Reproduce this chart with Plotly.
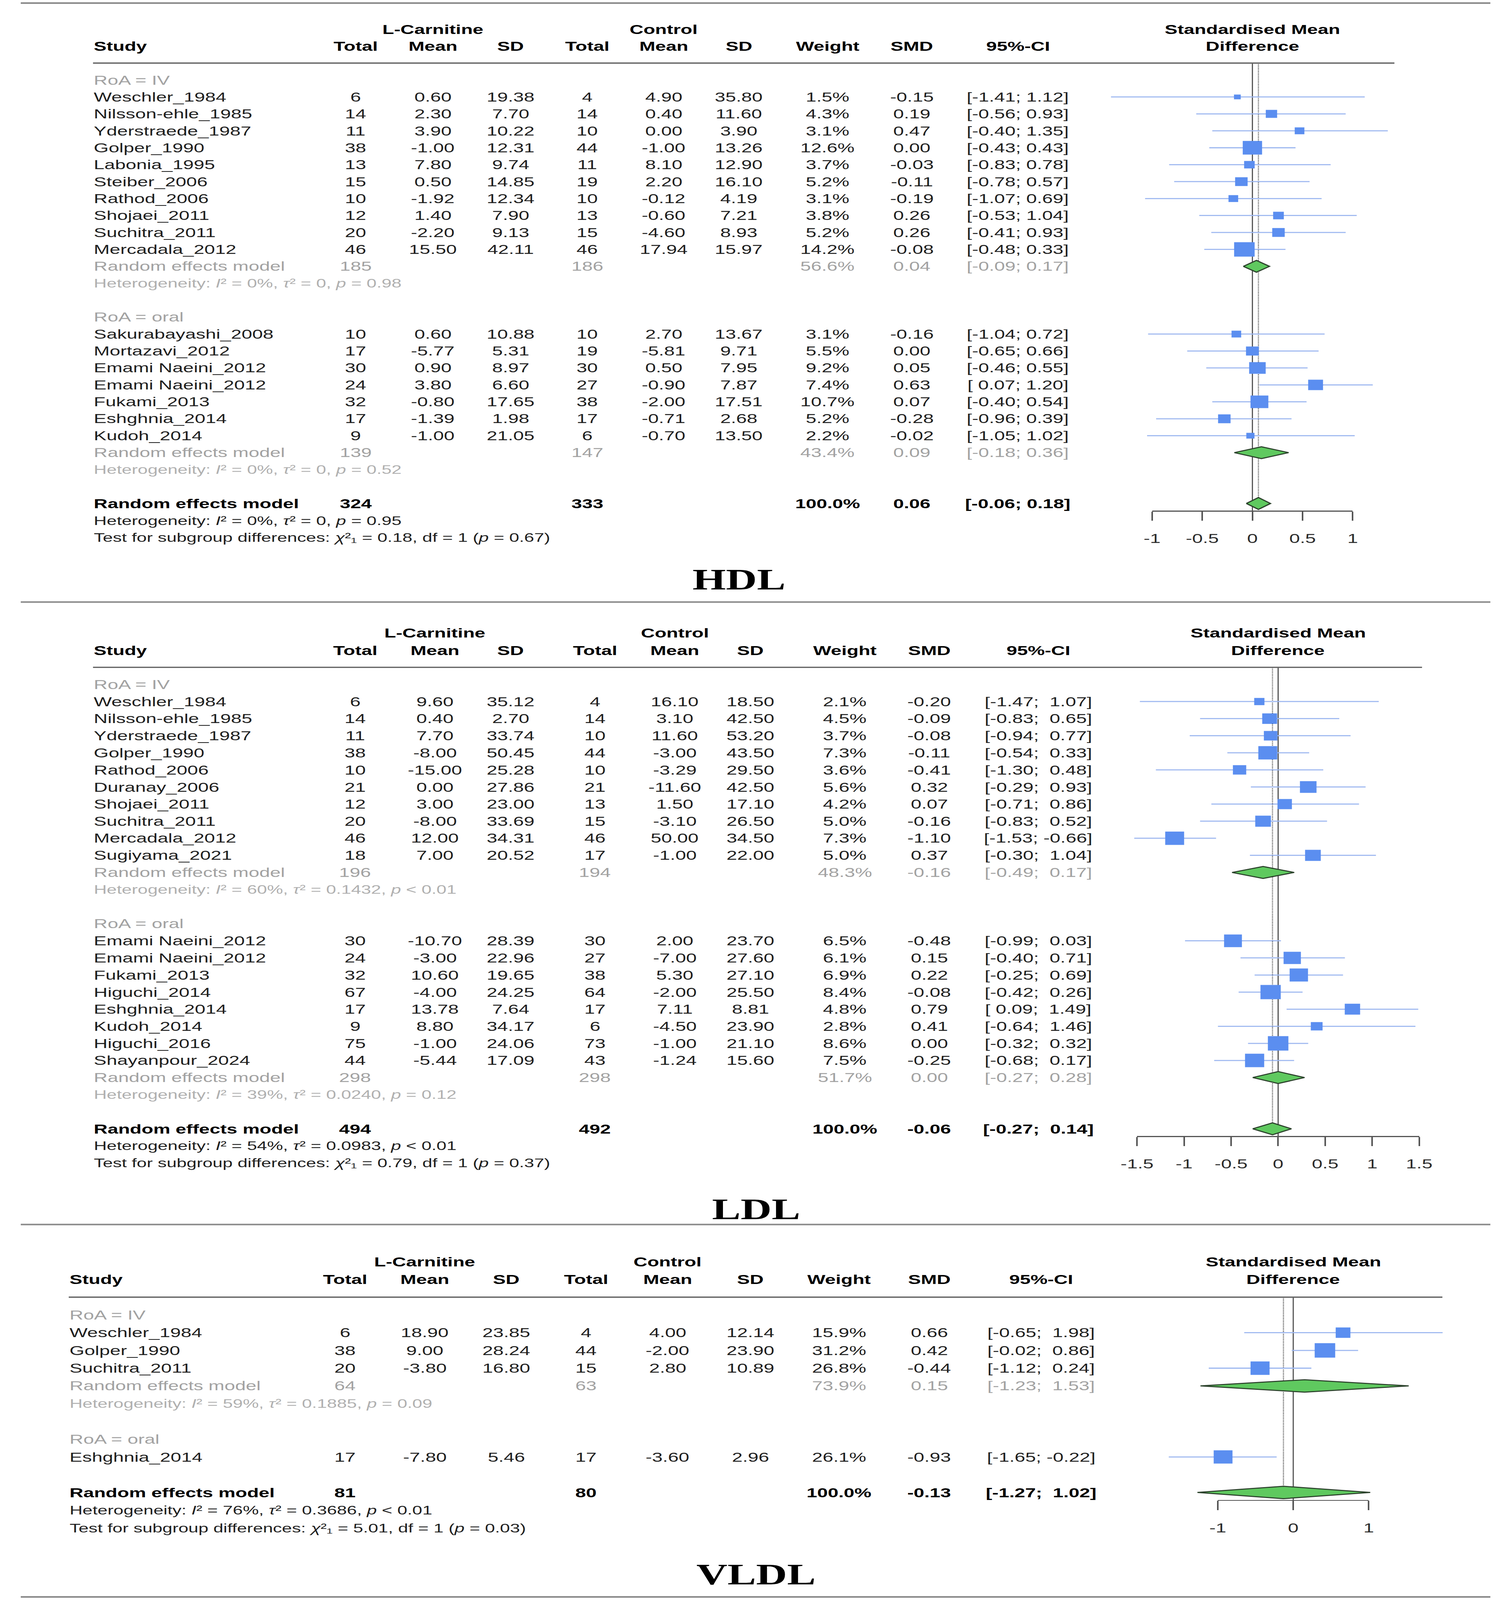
import math
import plotly.graph_objects as go

W, H = 3861, 5954
WD, HD = 1017.0, 1568.0          # layout grid (reference proportions) used for positioning

FONT = "Liberation Sans, Arial, Helvetica, sans-serif"
SERIF = "Liberation Serif, Times New Roman, serif"

# ======================= DATA =======================
# ---------------- HDL ----------------
hdl_study = ["Weschler_1984", "Nilsson-ehle_1985", "Yderstraede_1987", "Golper_1990", "Labonia_1995",
             "Steiber_2006", "Rathod_2006", "Shojaei_2011", "Suchitra_2011", "Mercadala_2012",
             "Sakurabayashi_2008", "Mortazavi_2012", "Emami Naeini_2012", "Emami Naeini_2012",
             "Fukami_2013", "Eshghnia_2014", "Kudoh_2014"]
hdl_group = ["IV"] * 10 + ["oral"] * 7
hdl_n_e = [6, 14, 11, 38, 13, 15, 10, 12, 20, 46, 10, 17, 30, 24, 32, 17, 9]
hdl_mean_e = [0.60, 2.30, 3.90, -1.00, 7.80, 0.50, -1.92, 1.40, -2.20, 15.50,
              0.60, -5.77, 0.90, 3.80, -0.80, -1.39, -1.00]
hdl_sd_e = [19.38, 7.70, 10.22, 12.31, 9.74, 14.85, 12.34, 7.90, 9.13, 42.11,
            10.88, 5.31, 8.97, 6.60, 17.65, 1.98, 21.05]
hdl_n_c = [4, 14, 10, 44, 11, 19, 10, 13, 15, 46, 10, 19, 30, 27, 38, 17, 6]
hdl_mean_c = [4.90, 0.40, 0.00, -1.00, 8.10, 2.20, -0.12, -0.60, -4.60, 17.94,
              2.70, -5.81, 0.50, -0.90, -2.00, -0.71, -0.70]
hdl_sd_c = [35.80, 11.60, 3.90, 13.26, 12.90, 16.10, 4.19, 7.21, 8.93, 15.97,
            13.67, 9.71, 7.95, 7.87, 17.51, 2.68, 13.50]
hdl_weight = [1.5, 4.3, 3.1, 12.6, 3.7, 5.2, 3.1, 3.8, 5.2, 14.2, 3.1, 5.5, 9.2, 7.4, 10.7, 5.2, 2.2]
hdl_smd = [-0.15, 0.19, 0.47, 0.00, -0.03, -0.11, -0.19, 0.26, 0.26, -0.08,
           -0.16, 0.00, 0.05, 0.63, 0.07, -0.28, -0.02]
hdl_lo = [-1.41, -0.56, -0.40, -0.43, -0.83, -0.78, -1.07, -0.53, -0.41, -0.48,
          -1.04, -0.65, -0.46, 0.07, -0.40, -0.96, -1.05]
hdl_hi = [1.12, 0.93, 1.35, 0.43, 0.78, 0.57, 0.69, 1.04, 0.93, 0.33,
          0.72, 0.66, 0.55, 1.20, 0.54, 0.39, 1.02]
hdl_sub_group = ["IV", "oral"]
hdl_sub_n_e = [185, 139]
hdl_sub_n_c = [186, 147]
hdl_sub_weight = [56.6, 43.4]
hdl_sub_smd = [0.04, 0.09]
hdl_sub_lo = [-0.09, -0.18]
hdl_sub_hi = [0.17, 0.36]
hdl_sub_i2 = ["0%", "0%"]
hdl_sub_tau2 = ["0", "0"]
hdl_sub_p = ["= 0.98", "= 0.52"]
hdl_all = dict(n_e=324, n_c=333, weight=100.0, smd=0.06, lo=-0.06, hi=0.18,
               i2="0%", tau2="0", p="= 0.95", chi2="0.18", chi_p="0.67")
hdl_ticks = [-1, -0.5, 0, 0.5, 1]

# ---------------- LDL ----------------
ldl_study = ["Weschler_1984", "Nilsson-ehle_1985", "Yderstraede_1987", "Golper_1990", "Rathod_2006",
             "Duranay_2006", "Shojaei_2011", "Suchitra_2011", "Mercadala_2012", "Sugiyama_2021",
             "Emami Naeini_2012", "Emami Naeini_2012", "Fukami_2013", "Higuchi_2014",
             "Eshghnia_2014", "Kudoh_2014", "Higuchi_2016", "Shayanpour_2024"]
ldl_group = ["IV"] * 10 + ["oral"] * 8
ldl_n_e = [6, 14, 11, 38, 10, 21, 12, 20, 46, 18, 30, 24, 32, 67, 17, 9, 75, 44]
ldl_mean_e = [9.60, 0.40, 7.70, -8.00, -15.00, 0.00, 3.00, -8.00, 12.00, 7.00,
              -10.70, -3.00, 10.60, -4.00, 13.78, 8.80, -1.00, -5.44]
ldl_sd_e = [35.12, 2.70, 33.74, 50.45, 25.28, 27.86, 23.00, 33.69, 34.31, 20.52,
            28.39, 22.96, 19.65, 24.25, 7.64, 34.17, 24.06, 17.09]
ldl_n_c = [4, 14, 10, 44, 10, 21, 13, 15, 46, 17, 30, 27, 38, 64, 17, 6, 73, 43]
ldl_mean_c = [16.10, 3.10, 11.60, -3.00, -3.29, -11.60, 1.50, -3.10, 50.00, -1.00,
              2.00, -7.00, 5.30, -2.00, 7.11, -4.50, -1.00, -1.24]
ldl_sd_c = [18.50, 42.50, 53.20, 43.50, 29.50, 42.50, 17.10, 26.50, 34.50, 22.00,
            23.70, 27.60, 27.10, 25.50, 8.81, 23.90, 21.10, 15.60]
ldl_weight = [2.1, 4.5, 3.7, 7.3, 3.6, 5.6, 4.2, 5.0, 7.3, 5.0, 6.5, 6.1, 6.9, 8.4, 4.8, 2.8, 8.6, 7.5]
ldl_smd = [-0.20, -0.09, -0.08, -0.11, -0.41, 0.32, 0.07, -0.16, -1.10, 0.37,
           -0.48, 0.15, 0.22, -0.08, 0.79, 0.41, 0.00, -0.25]
ldl_lo = [-1.47, -0.83, -0.94, -0.54, -1.30, -0.29, -0.71, -0.83, -1.53, -0.30,
          -0.99, -0.40, -0.25, -0.42, 0.09, -0.64, -0.32, -0.68]
ldl_hi = [1.07, 0.65, 0.77, 0.33, 0.48, 0.93, 0.86, 0.52, -0.66, 1.04,
          0.03, 0.71, 0.69, 0.26, 1.49, 1.46, 0.32, 0.17]
ldl_sub_group = ["IV", "oral"]
ldl_sub_n_e = [196, 298]
ldl_sub_n_c = [194, 298]
ldl_sub_weight = [48.3, 51.7]
ldl_sub_smd = [-0.16, 0.00]
ldl_sub_lo = [-0.49, -0.27]
ldl_sub_hi = [0.17, 0.28]
ldl_sub_i2 = ["60%", "39%"]
ldl_sub_tau2 = ["0.1432", "0.0240"]
ldl_sub_p = ["< 0.01", "= 0.12"]
ldl_all = dict(n_e=494, n_c=492, weight=100.0, smd=-0.06, lo=-0.27, hi=0.14,
               i2="54%", tau2="0.0983", p="< 0.01", chi2="0.79", chi_p="0.37")
ldl_ticks = [-1.5, -1, -0.5, 0, 0.5, 1, 1.5]

# ---------------- VLDL ----------------
vldl_study = ["Weschler_1984", "Golper_1990", "Suchitra_2011", "Eshghnia_2014"]
vldl_group = ["IV", "IV", "IV", "oral"]
vldl_n_e = [6, 38, 20, 17]
vldl_mean_e = [18.90, 9.00, -3.80, -7.80]
vldl_sd_e = [23.85, 28.24, 16.80, 5.46]
vldl_n_c = [4, 44, 15, 17]
vldl_mean_c = [4.00, -2.00, 2.80, -3.60]
vldl_sd_c = [12.14, 23.90, 10.89, 2.96]
vldl_weight = [15.9, 31.2, 26.8, 26.1]
vldl_smd = [0.66, 0.42, -0.44, -0.93]
vldl_lo = [-0.65, -0.02, -1.12, -1.65]
vldl_hi = [1.98, 0.86, 0.24, -0.22]
vldl_sub_group = ["IV", "oral"]
vldl_sub_n_e = [64, None]
vldl_sub_n_c = [63, None]
vldl_sub_weight = [73.9, None]
vldl_sub_smd = [0.15, None]
vldl_sub_lo = [-1.23, None]
vldl_sub_hi = [1.53, None]
vldl_sub_i2 = ["59%", None]
vldl_sub_tau2 = ["0.1885", None]
vldl_sub_p = ["= 0.09", None]
vldl_all = dict(n_e=81, n_c=80, weight=100.0, smd=-0.13, lo=-1.27, hi=1.02,
                i2="76%", tau2="0.3686", p="< 0.01", chi2="5.01", chi_p="0.03")
vldl_ticks = [-1, 0, 1]

# ======================= LAYOUT SPECS (positions only) =======================
specs = [
    dict(title="HDL", title_x=497, title_y=568, y0=95.0, sp=16.6, x0=850.3, unit=69.0,
         study_x=52.7, cols=[233.4, 286.5, 340, 392.8, 445.3, 497, 558, 616, 689],
         ul=(52.7, 948)),
    dict(title="LDL", title_x=509, title_y=1185, y0=687.5, sp=16.75, x0=868.0, unit=64.7,
         study_x=52.7, cols=[233, 288, 340, 398, 453, 505, 570, 628, 703],
         ul=(52.7, 967)),
    dict(title="VLDL", title_x=509, title_y=1543, y0=1306.0, sp=17.4, x0=878.4, unit=51.9,
         study_x=36.0, cols=[226, 281, 337, 392, 448, 505, 566, 628, 705],
         ul=(36.0, 981)),
]
separators_y = [3, 590, 1200, 1565]

datasets = [
    dict(study=hdl_study, group=hdl_group, n_e=hdl_n_e, mean_e=hdl_mean_e, sd_e=hdl_sd_e,
         n_c=hdl_n_c, mean_c=hdl_mean_c, sd_c=hdl_sd_c, weight=hdl_weight, smd=hdl_smd,
         lo=hdl_lo, hi=hdl_hi, sub_group=hdl_sub_group, sub_n_e=hdl_sub_n_e, sub_n_c=hdl_sub_n_c,
         sub_weight=hdl_sub_weight, sub_smd=hdl_sub_smd, sub_lo=hdl_sub_lo, sub_hi=hdl_sub_hi,
         sub_i2=hdl_sub_i2, sub_tau2=hdl_sub_tau2, sub_p=hdl_sub_p, all=hdl_all, ticks=hdl_ticks),
    dict(study=ldl_study, group=ldl_group, n_e=ldl_n_e, mean_e=ldl_mean_e, sd_e=ldl_sd_e,
         n_c=ldl_n_c, mean_c=ldl_mean_c, sd_c=ldl_sd_c, weight=ldl_weight, smd=ldl_smd,
         lo=ldl_lo, hi=ldl_hi, sub_group=ldl_sub_group, sub_n_e=ldl_sub_n_e, sub_n_c=ldl_sub_n_c,
         sub_weight=ldl_sub_weight, sub_smd=ldl_sub_smd, sub_lo=ldl_sub_lo, sub_hi=ldl_sub_hi,
         sub_i2=ldl_sub_i2, sub_tau2=ldl_sub_tau2, sub_p=ldl_sub_p, all=ldl_all, ticks=ldl_ticks),
    dict(study=vldl_study, group=vldl_group, n_e=vldl_n_e, mean_e=vldl_mean_e, sd_e=vldl_sd_e,
         n_c=vldl_n_c, mean_c=vldl_mean_c, sd_c=vldl_sd_c, weight=vldl_weight, smd=vldl_smd,
         lo=vldl_lo, hi=vldl_hi, sub_group=vldl_sub_group, sub_n_e=vldl_sub_n_e, sub_n_c=vldl_sub_n_c,
         sub_weight=vldl_sub_weight, sub_smd=vldl_sub_smd, sub_lo=vldl_sub_lo, sub_hi=vldl_sub_hi,
         sub_i2=vldl_sub_i2, sub_tau2=vldl_sub_tau2, sub_p=vldl_sub_p, all=vldl_all, ticks=vldl_ticks),
]

# ======================= STYLE =======================
C_TXT = "#1e1e1e"
C_HDR = "#000000"
C_GRAY = "#a2a2a2"
C_HETG = "#b0b0b0"
C_SQ = "#5b8ef0"
C_CI = "#9db7f0"
C_DIA = "#5fc95f"
C_DIA_L = "#2c422c"
FS = 49
FS_HET = 46
SQ_D = 14.0          # side of the largest square, in layout-grid units

fig = go.Figure()
annotations = []
shapes = []


def add_text(xD, yref, y, text, color=C_TXT, size=FS, anchor="center", family=FONT):
    annotations.append(dict(x=xD / WD, xref="paper", y=y, yref=yref, text=text, showarrow=False,
                            xanchor=anchor, yanchor="middle",
                            font=dict(family=family, size=size, color=color)))


def ci_texts(lows, highs):
    ls = [f"{v:.2f}" for v in lows]
    hs = [f"{v:.2f}" for v in highs]
    wl = max(len(s) for s in ls)
    wh = max(len(s) for s in hs)
    return ["[" + a.rjust(wl, "\u00a0") + "; " + b.rjust(wh, "\u00a0") + "]" for a, b in zip(ls, hs)]


def het_text(i2, tau2, p):
    return f"Heterogeneity: <i>I</i>\u00b2 = {i2}, <i>τ</i>\u00b2 = {tau2}, <i>p</i> {p}"


for k, (P, D) in enumerate(zip(specs, datasets), start=1):
    xa = "x" if k == 1 else f"x{k}"
    ya = "y" if k == 1 else f"y{k}"
    xname = "xaxis" if k == 1 else f"xaxis{k}"
    yname = "yaxis" if k == 1 else f"yaxis{k}"
    y0, sp, x0, u = P["y0"], P["sp"], P["x0"], P["unit"]
    c = P["cols"]
    A = D["all"]

    fig.layout[xname] = dict(domain=[0, 1], range=[(0 - x0) / u, (WD - x0) / u], visible=False,
                             anchor=ya, fixedrange=True)
    fig.layout[yname] = dict(domain=[0, 1], range=[(HD - y0) / sp, (0 - y0) / sp], visible=False,
                             anchor=xa, fixedrange=True)

    n = len(D["study"])
    rows = [None] * n
    roa_rows, sub_rows = [], {}
    r = -1
    for gi, g in enumerate(D["sub_group"]):
        roa_rows.append((g, r))
        r += 1
        for i in range(n):
            if D["group"][i] == g:
                rows[i] = r
                r += 1
        if D["sub_n_e"][gi] is not None:
            sub_rows[gi] = r
            r += 2
        r += 1
    r_all = r
    r_axis = r_all + 0.45

    all_lo = list(D["lo"]) + [v for v in D["sub_lo"] if v is not None] + [A["lo"]]
    all_hi = list(D["hi"]) + [v for v in D["sub_hi"] if v is not None] + [A["hi"]]
    cis = ci_texts(all_lo, all_hi)
    ci_study = cis[:n]
    ci_sub = {}
    j = n
    for gi in range(len(D["sub_group"])):
        if D["sub_lo"][gi] is not None:
            ci_sub[gi] = cis[j]
            j += 1
    ci_all = cis[j]

    # ---- headers ----
    b = lambda s: f"<b>{s}</b>"
    add_text(c[1], ya, -4, b("L-Carnitine"), C_HDR)
    add_text(c[4], ya, -4, b("Control"), C_HDR)
    add_text(x0, ya, -4, b("Standardised Mean"), C_HDR)
    add_text(P["study_x"], ya, -3, b("Study"), C_HDR, anchor="left")
    for xD, s in zip(c, ["Total", "Mean", "SD", "Total", "Mean", "SD", "Weight", "SMD", "95%-CI"]):
        add_text(xD, ya, -3, b(s), C_HDR)
    add_text(x0, ya, -3, b("Difference"), C_HDR)
    shapes.append(dict(type="line", xref="paper", yref=ya, x0=P["ul"][0] / WD, x1=P["ul"][1] / WD,
                       y0=-2, y1=-2, line=dict(color="#666666", width=5)))

    for g, rr in roa_rows:
        add_text(P["study_x"], ya, rr, f"RoA = {g}", C_GRAY, anchor="left")

    # ---- study rows ----
    for i in range(n):
        rr = rows[i]
        add_text(P["study_x"], ya, rr, D["study"][i], anchor="left")
        vals = [str(D["n_e"][i]), f"{D['mean_e'][i]:.2f}", f"{D['sd_e'][i]:.2f}",
                str(D["n_c"][i]), f"{D['mean_c'][i]:.2f}", f"{D['sd_c'][i]:.2f}",
                f"{D['weight'][i]:.1f}%", f"{D['smd'][i]:.2f}", ci_study[i]]
        for xD, s in zip(c, vals):
            add_text(xD, ya, rr, s)

    # ---- subgroup summaries ----
    for gi, rr in sub_rows.items():
        add_text(P["study_x"], ya, rr, "Random effects model", C_GRAY, anchor="left")
        add_text(c[0], ya, rr, str(D["sub_n_e"][gi]), C_GRAY)
        add_text(c[3], ya, rr, str(D["sub_n_c"][gi]), C_GRAY)
        add_text(c[6], ya, rr, f"{D['sub_weight'][gi]:.1f}%", C_GRAY)
        add_text(c[7], ya, rr, f"{D['sub_smd'][gi]:.2f}", C_GRAY)
        add_text(c[8], ya, rr, ci_sub[gi], C_GRAY)
        add_text(P["study_x"], ya, rr + 1,
                 het_text(D["sub_i2"][gi], D["sub_tau2"][gi], D["sub_p"][gi]),
                 C_HETG, size=FS_HET, anchor="left")

    # ---- overall ----
    add_text(P["study_x"], ya, r_all, b("Random effects model"), C_HDR, anchor="left")
    add_text(c[0], ya, r_all, b(str(A["n_e"])), C_HDR)
    add_text(c[3], ya, r_all, b(str(A["n_c"])), C_HDR)
    add_text(c[6], ya, r_all, b(f"{A['weight']:.1f}%"), C_HDR)
    add_text(c[7], ya, r_all, b(f"{A['smd']:.2f}"), C_HDR)
    add_text(c[8], ya, r_all, b(ci_all), C_HDR)
    add_text(P["study_x"], ya, r_all + 1, het_text(A["i2"], A["tau2"], A["p"]),
             C_TXT, size=FS_HET, anchor="left")
    add_text(P["study_x"], ya, r_all + 2,
             f"Test for subgroup differences: <i>χ</i>\u00b2\u2081 = {A['chi2']}, "
             f"df = 1 (<i>p</i> = {A['chi_p']})", C_TXT, size=FS_HET, anchor="left")

    # ---- forest marks ----
    fig.add_trace(go.Scatter(x=[0, 0], y=[-2, r_axis], mode="lines", xaxis=xa, yaxis=ya,
                             line=dict(color="#555555", width=3), hoverinfo="skip"))
    fig.add_trace(go.Scatter(x=[A["smd"], A["smd"]], y=[-2, r_all - 0.35], mode="lines",
                             xaxis=xa, yaxis=ya, hoverinfo="skip",
                             line=dict(color="#555555", width=3, dash="dot")))
    cx, cy = [], []
    for i in range(n):
        cx += [D["lo"][i], D["hi"][i], None]
        cy += [rows[i], rows[i], None]
    fig.add_trace(go.Scatter(x=cx, y=cy, mode="lines", xaxis=xa, yaxis=ya, hoverinfo="skip",
                             line=dict(color=C_CI, width=4)))
    # weight-scaled squares (side proportional to sqrt(weight))
    wmax = max(D["weight"])
    sx, sy = [], []
    for i in range(n):
        side = SQ_D * math.sqrt(D["weight"][i] / wmax)
        hw, hh = side / 2 / u, side / 2 / sp
        s, rr = D["smd"][i], rows[i]
        sx += [s - hw, s + hw, s + hw, s - hw, s - hw, None]
        sy += [rr - hh, rr - hh, rr + hh, rr + hh, rr - hh, None]
    fig.add_trace(go.Scatter(x=sx, y=sy, mode="lines", fill="toself", fillcolor=C_SQ,
                             line=dict(color=C_SQ, width=0.5), xaxis=xa, yaxis=ya,
                             hoverinfo="skip"))
    # summary diamonds
    dia = [(D["sub_smd"][gi], D["sub_lo"][gi], D["sub_hi"][gi], rr) for gi, rr in sub_rows.items()]
    dia.append((A["smd"], A["lo"], A["hi"], r_all))
    for est, lo, hi, rr in dia:
        h = 0.35
        fig.add_trace(go.Scatter(x=[lo, est, hi, est, lo], y=[rr, rr - h, rr, rr + h, rr],
                                 mode="lines", fill="toself", fillcolor=C_DIA, xaxis=xa, yaxis=ya,
                                 line=dict(color=C_DIA_L, width=4), hoverinfo="skip"))

    # ---- x axis with ticks ----
    t = D["ticks"]
    dname = f"xaxis{k + 3}"
    fig.layout[dname] = dict(
        domain=[(x0 + min(t) * u) / WD, (x0 + max(t) * u) / WD], range=[min(t), max(t)],
        anchor="free", position=1 - (y0 + sp * r_axis) / HD,
        showline=True, linecolor="#555555", linewidth=4, showgrid=False, zeroline=False,
        ticks="outside", ticklen=34, tickwidth=4, tickcolor="#555555",
        tickvals=t, ticktext=[f"{v:g}" for v in t], ticklabelstandoff=24,
        tickfont=dict(family=FONT, size=FS, color="#2a2a2a"), fixedrange=True)
    fig.add_trace(go.Scatter(x=[t[0]], y=[r_all], xaxis=f"x{k + 3}", yaxis=ya, mode="markers",
                             marker=dict(opacity=0, size=1), hoverinfo="skip"))

    # ---- panel title ----
    annotations.append(dict(x=P["title_x"] / WD, xref="paper", y=1 - P["title_y"] / HD, yref="paper",
                            text=f"<b>{P['title']}</b>", showarrow=False, xanchor="center",
                            yanchor="middle", font=dict(family=SERIF, size=110, color="#000000")))

for sy_ in separators_y:
    shapes.append(dict(type="line", xref="paper", yref="paper", x0=3 / WD, x1=1014 / WD,
                       y0=1 - sy_ / HD, y1=1 - sy_ / HD, line=dict(color="#8c8c8c", width=6)))

fig.update_layout(width=W, height=H, margin=dict(l=0, r=0, t=0, b=0),
                  paper_bgcolor="white", plot_bgcolor="rgba(0,0,0,0)", showlegend=False,
                  annotations=annotations, shapes=shapes)

# If the viewing window is smaller than the figure, shrink the whole page to fit it.
fit_js = (
    "var gd=document.getElementById('{plot_id}');"
    "document.body.style.margin='0px';"
    "document.documentElement.style.overflow='hidden';"
    "var sx=Math.min(1,window.innerWidth/" + str(W) + "),sy=Math.min(1,window.innerHeight/" + str(H) + ");"
    "gd.style.transformOrigin='0 0';"
    "gd.style.transform='scale('+sx+','+sy+')';"
)
fig.write_html("out.html", post_script=fit_js, config={"displayModeBar": False})
